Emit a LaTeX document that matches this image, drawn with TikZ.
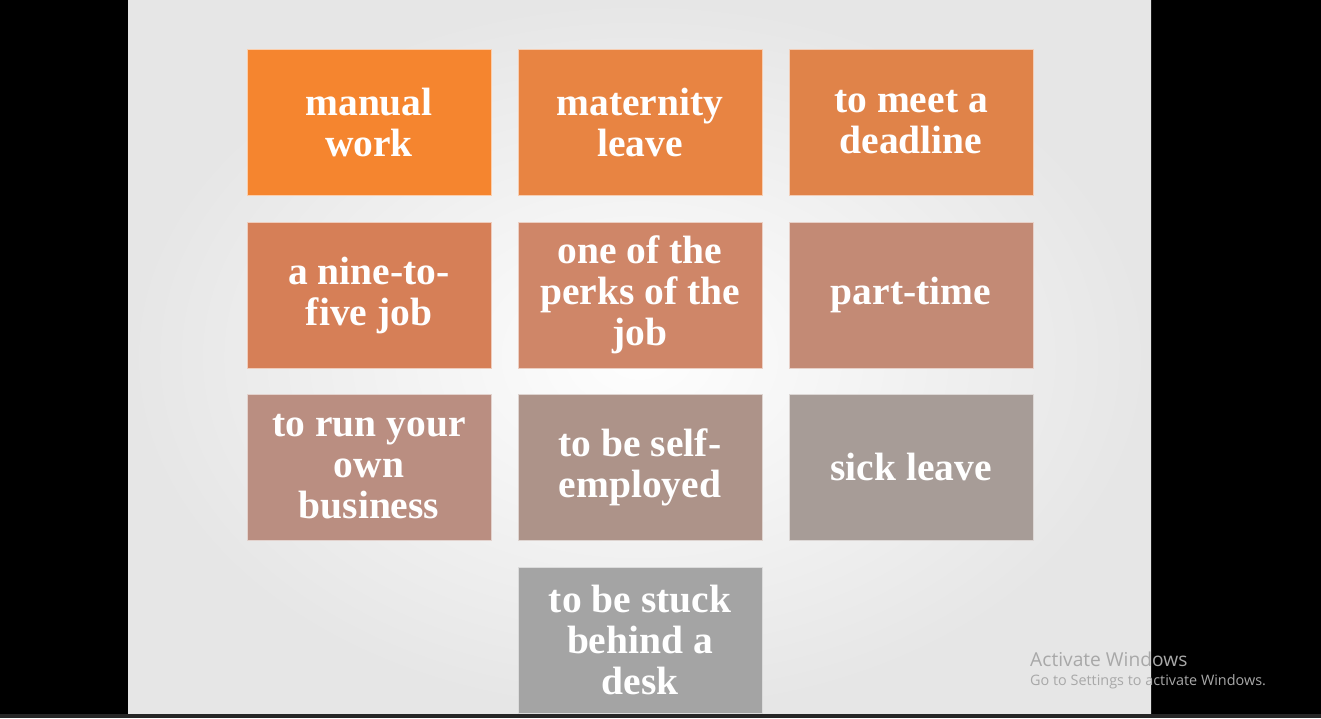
\documentclass[tikz,border=0pt]{standalone}
\usepackage{fontspec}
\setmainfont{Liberation Serif}
\newfontfamily\winfont{Open Sans}

\definecolor{slidegray}{HTML}{E6E6E6}
\definecolor{boxA}{HTML}{F5852F}
\definecolor{boxB}{HTML}{E88442}
\definecolor{boxC}{HTML}{E08349}
\definecolor{boxD}{HTML}{D67F57}
\definecolor{boxE}{HTML}{CF8668}
\definecolor{boxF}{HTML}{C38A75}
\definecolor{boxG}{HTML}{BA8E81}
\definecolor{boxH}{HTML}{AD9389}
\definecolor{boxI}{HTML}{A79C97}
\definecolor{boxJ}{HTML}{A4A4A4}
\definecolor{wingray}{HTML}{A8A8A8}

\tikzset{
  wordbox/.style={draw=white!60!#1, fill=#1, line width=0.8pt,
    minimum width=244pt, minimum height=146pt, inner sep=0pt,
    align=center, text=white,
    font=\bfseries\fontsize{39.5}{41}\selectfont}
}

\begin{document}
\begin{tikzpicture}[x=1pt, y=-1pt]

	\useasboundingbox (0,0) rectangle (1321,718);
	\fill[black] (0,0) rectangle (1321,718);
	\shade[inner color=white!96!slidegray, outer color=slidegray] (128,0) rectangle (1151,714);
	\fill[black!85] (0,714) rectangle (1321,718);

	% first row
	\node[wordbox=boxA] (manual) at (369,122) {manual\\work};
	\node[wordbox=boxB] (maternity) at (640,122) {maternity\\leave};
	\node[wordbox=boxC] (deadline) at (911,122) {to meet a\\deadline};
	% second row
	\node[wordbox=boxD] (ninetofive) at (369,295) {a nine-to-\\five job};
	\node[wordbox=boxE] (perks) at (640,295) {one of the\\perks of the\\job};
	\node[wordbox=boxF] (parttime) at (911,295) {part-time};
	% third row
	\node[wordbox=boxG] (business) at (369,467) {to run your\\own\\business};
	\node[wordbox=boxH] (selfemployed) at (640,467) {to be self-\\employed};
	\node[wordbox=boxI] (sickleave) at (911,467) {sick leave};
	% last row
	\node[wordbox=boxJ] (stuck) at (640,640) {to be stuck\\behind a\\desk};

	\node[anchor=west, inner sep=0pt, text=wingray, font=\winfont\fontsize{19.2}{21}\selectfont] (activate) at (1030,659) {Activate Windows};
	\node[anchor=west, inner sep=0pt, text=wingray, font=\winfont\fontsize{14.4}{16}\selectfont] (settings) at (1030,682) {Go to Settings to activate Windows.};
\end{tikzpicture}
\end{document}
